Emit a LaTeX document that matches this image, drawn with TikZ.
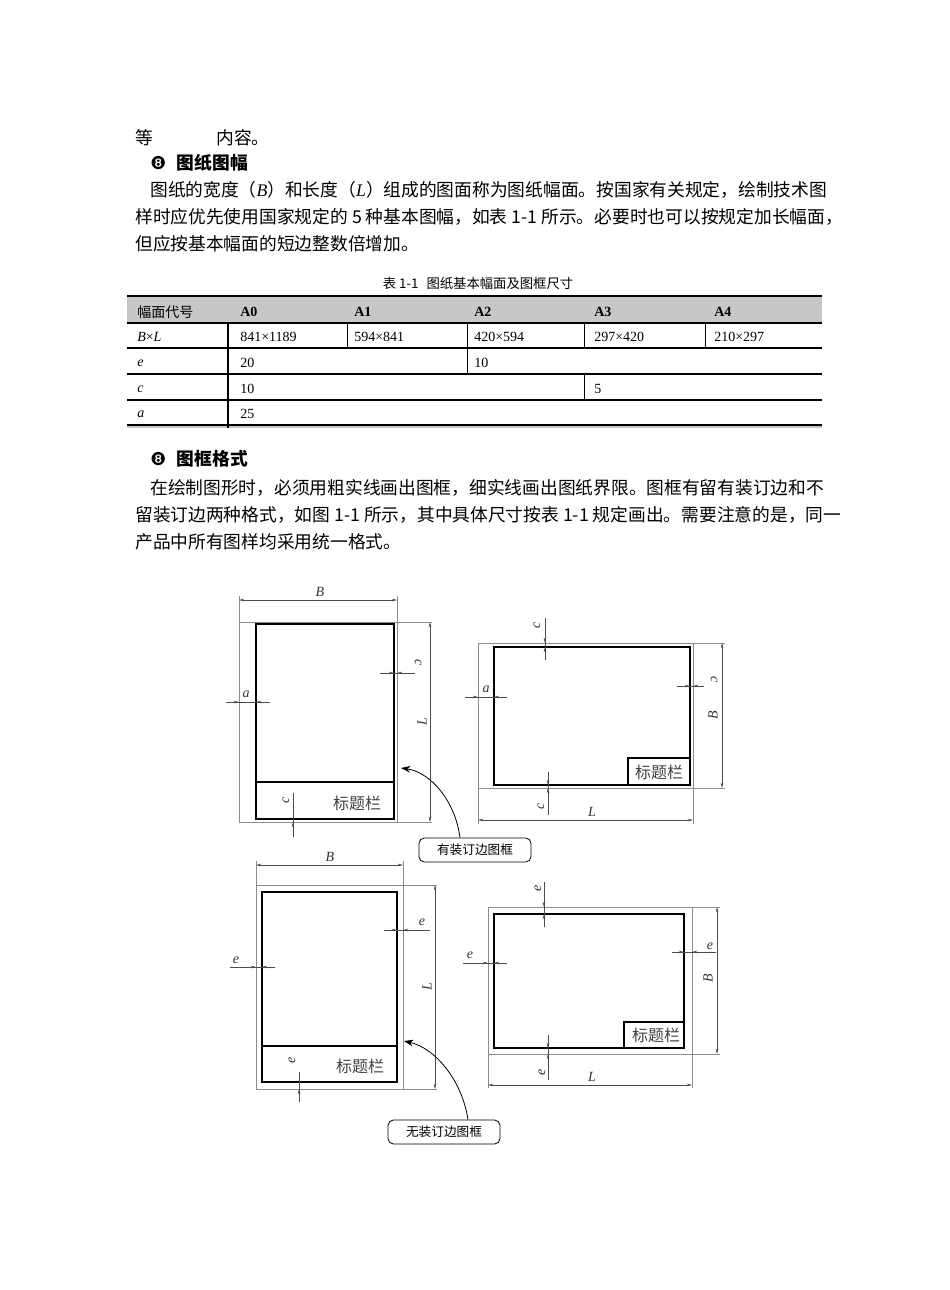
\documentclass[tikz,border=0pt]{standalone}
\usepackage{fontspec}
\setmainfont{Liberation Serif}
\newfontfamily\cjk{Noto Sans CJK SC}
\newfontfamily\djv{DejaVu Sans}
\newcommand\li[1]{{\rmfamily\itshape #1}}
\usetikzlibrary{arrows.meta}
\begin{document}
\begin{tikzpicture}[x=0.75pt,y=-0.75pt,
  body/.style={anchor=west,inner sep=0,font=\fontsize{13.3}{15}\selectfont},
  tb/.style={anchor=west,inner sep=0,font=\fontsize{10.5}{12}\selectfont},
  paper/.style={draw=black!45,line width=0.5pt},
  frm/.style={draw=black,line width=1.3pt},
  dim/.style={draw=black!70,line width=0.4pt},
  da/.style={dim,{Stealth[length=4pt,width=2pt]}-{Stealth[length=4pt,width=2pt]}},
  lb/.style={inner sep=0,font=\fontsize{10.5}{11}\selectfont\itshape,text=black!80},
  tt/.style={inner sep=0,font=\cjk\fontsize{12}{12}\selectfont,text=black!75},
  call/.style={draw,rounded corners=4pt,line width=0.6pt,minimum width=112pt*0.75,minimum height=24pt*0.75,font=\cjk\fontsize{9.5}{10}\selectfont},
  tip/.style={-{Stealth[length=7pt,width=5pt]},line width=0.6pt}]
\useasboundingbox (0,0) rectangle (950,1290);
% --- text ---
\node[body] (t1) at (135,138) {\cjk 等};
\node[body] (t2) at (216,138) {\cjk 内容。};
\node[body] (h1) at (150,163) {{\djv ❽}\hspace{8pt}\cjk\bfseries 图纸图幅};
\node[body] (p1) at (150,190) {\cjk 图纸的宽度（\li{B}）和长度（\li{L}）组成的图面称为图纸幅面。按国家有关规定，绘制技术图};
\node[body] (p2) at (135,217) {\cjk 样时应优先使用国家规定的 5 种基本图幅，如表 1-1 所示。必要时也可以按规定加长幅面，};
\node[body] (p3) at (135,244) {\cjk 但应按基本幅面的短边整数倍增加。};
\node[inner sep=0,font=\cjk\fontsize{10}{10}\selectfont] (cap) at (478,283) {表 1-1\hspace{6pt}图纸基本幅面及图框尺寸};
% --- table ---
\fill[black!22] (127,296) rectangle (822,323);
\fill[black!22] (127,425) rectangle (822,428);
\draw[line width=1.6pt] (127,296) -- (822,296);
\draw[line width=1pt] (127,323) -- (822,323);
\foreach \y in {348,374,400} \draw[line width=0.8pt] (127,\y) -- (822,\y);
\draw[line width=1.4pt] (127,425) -- (822,425);
\draw[line width=0.8pt] (228,323) -- (228,428);
\draw[line width=0.6pt] (347,323) -- (347,348) (705,323) -- (705,348);
\draw[line width=0.6pt] (467,323) -- (467,374);
\draw[line width=0.6pt] (584,323) -- (584,348) (584,374) -- (584,400);
\node[tb] (c00) at (137,312) {\cjk 幅面代号};
\node[tb] (c01) at (240,312) {\bfseries A0};
\node[tb] (c02) at (354,312) {\bfseries A1};
\node[tb] (c03) at (474,312) {\bfseries A2};
\node[tb] (c04) at (594,312) {\bfseries A3};
\node[tb] (c05) at (714,312) {\bfseries A4};
\node[tb] (c10) at (137,337) {\textit{B}×\textit{L}};
\node[tb] (c11) at (240,337) {841×1189};
\node[tb] (c12) at (354,337) {594×841};
\node[tb] (c13) at (474,337) {420×594};
\node[tb] (c14) at (594,337) {297×420};
\node[tb] (c15) at (714,337) {210×297};
\node[tb] (c20) at (137,363) {\textit{e}};
\node[tb] (c21) at (240,363) {20};
\node[tb] (c23) at (474,363) {10};
\node[tb] (c30) at (137,389) {\textit{c}};
\node[tb] (c31) at (240,389) {10};
\node[tb] (c34) at (594,389) {5};
\node[tb] (c40) at (137,414) {\textit{a}};
\node[tb] (c41) at (240,414) {25};
% --- second heading ---
\node[body] (h2) at (150,459) {{\djv ❽}\hspace{8pt}\cjk\bfseries 图框格式};
\node[body] (q1) at (150,488) {\cjk 在绘制图形时，必须用粗实线画出图框，细实线画出图纸界限。图框有留有装订边和不};
\node[body] (q2) at (135,515) {\cjk 留装订边两种格式，如图 1-1 所示，其中具体尺寸按表 1-1 规定画出。需要注意的是，同一};
\node[body] (q3) at (135,542) {\cjk 产品中所有图样均采用统一格式。};
% ===== Figure 1 =====
\draw[paper] (239,622) rectangle (397,822);
\draw[paper] (397,622) -- (432,622) (397,822) -- (432,822);
\draw[paper] (239,596) -- (239,622) (397,596) -- (397,622);
\draw[frm] (256,624) rectangle (394,819);
\draw[frm] (256,782) -- (394,782);
\node[tt] (tb1) at (357,803) {标题栏};
\draw[da] (239,600) -- (397,600); \node[lb] (B1) at (320,592) {B};
\draw[da] (430,622) -- (430,822); \node[lb,rotate=90] (L1) at (422,722) {L};
\draw[dim] (226,702) -- (270,702);
\draw[dim,-{Stealth[length=4pt,width=2pt]}] (228,702) -- (239,702);
\draw[dim,-{Stealth[length=4pt,width=2pt]}] (268,702) -- (256,702);
\node[lb] (a1) at (246,694) {a};
\draw[dim] (380,673) -- (415,673);
\draw[dim,-{Stealth[length=4pt,width=2pt]}] (382,673) -- (394,673);
\draw[dim,-{Stealth[length=4pt,width=2pt]}] (409,673) -- (397,673);
\node[lb,rotate=-90] (cr1) at (418,663) {c};
\draw[dim] (293,793) -- (293,837);
\draw[dim,-{Stealth[length=4pt,width=2pt]}] (293,835) -- (293,822);
\node[lb,rotate=90] (cb1) at (286,800) {c};
% ===== Figure 2 =====
\draw[paper] (478,643) rectangle (693,788);
\draw[paper] (693,643) -- (725,643) (693,788) -- (725,788);
\draw[paper] (478,788) -- (478,824) (693,788) -- (693,824);
\draw[frm] (494,647) rectangle (690,785);
\draw[frm] (628,785) -- (628,758) -- (690,758);
\node[tt] (tb2) at (659,772) {标题栏};
\draw[da] (722,643) -- (722,788); \node[lb,rotate=90] (B2) at (713,715) {B};
\draw[da] (478,820) -- (693,820); \node[lb] (L2) at (592,812) {L};
\draw[dim] (545,618) -- (545,660);
\draw[dim,-{Stealth[length=4pt,width=2pt]}] (545,632) -- (545,643);
\draw[dim,-{Stealth[length=4pt,width=2pt]}] (545,658) -- (545,647);
\node[lb,rotate=90] (ct2) at (537,625) {c};
\draw[dim] (548,772) -- (548,815);
\draw[dim,-{Stealth[length=4pt,width=2pt]}] (548,774) -- (548,785);
\draw[dim,-{Stealth[length=4pt,width=2pt]}] (548,800) -- (548,788);
\node[lb,rotate=90] (cb2) at (541,806) {c};
\draw[dim] (465,697) -- (507,697);
\draw[dim,-{Stealth[length=4pt,width=2pt]}] (467,697) -- (478,697);
\draw[dim,-{Stealth[length=4pt,width=2pt]}] (505,697) -- (494,697);
\node[lb] (a2) at (486,689) {a};
\draw[dim] (677,686) -- (700,686);
\draw[dim,-{Stealth[length=4pt,width=2pt]}] (679,686) -- (690,686);
\draw[dim,-{Stealth[length=4pt,width=2pt]}] (704,686) -- (693,686);
\node[lb,rotate=-90] (cr2) at (714,680) {c};
% ===== Figure 3 =====
\draw[paper] (256,885) rectangle (403,1089);
\draw[paper] (403,885) -- (437,885) (403,1089) -- (437,1089);
\draw[paper] (256,861) -- (256,885) (403,861) -- (403,885);
\draw[frm] (262,892) rectangle (397,1082);
\draw[frm] (262,1046) -- (397,1046);
\node[tt] (tb3) at (360,1066) {标题栏};
\draw[da] (256,865) -- (403,865); \node[lb] (B3) at (330,857) {B};
\draw[da] (435,885) -- (435,1089); \node[lb,rotate=90] (L3) at (427,987) {L};
\draw[dim] (230,967) -- (275,967);
\draw[dim,-{Stealth[length=4pt,width=2pt]}] (245,967) -- (256,967);
\draw[dim,-{Stealth[length=4pt,width=2pt]}] (273,967) -- (262,967);
\node[lb] (e31) at (236,960) {e};
\draw[dim] (384,930) -- (430,930);
\draw[dim,-{Stealth[length=4pt,width=2pt]}] (386,930) -- (397,930);
\draw[dim,-{Stealth[length=4pt,width=2pt]}] (414,930) -- (403,930);
\node[lb] (e32) at (422,922) {e};
\draw[dim] (299,1072) -- (299,1102);
\draw[dim,-{Stealth[length=4pt,width=2pt]}] (299,1100) -- (299,1089);
\node[lb,rotate=90] (e33) at (292,1060) {e};
% ===== Figure 4 =====
\draw[paper] (488,907) rectangle (692,1054);
\draw[paper] (692,907) -- (720,907) (692,1054) -- (720,1054);
\draw[paper] (488,1054) -- (488,1088) (692,1054) -- (692,1088);
\draw[frm] (494,914) rectangle (684,1048);
\draw[frm] (624,1048) -- (624,1022) -- (684,1022);
\node[tt] (tb4) at (656,1035) {标题栏};
\draw[da] (717,907) -- (717,1054); \node[lb,rotate=90] (B4) at (708,978) {B};
\draw[da] (488,1085) -- (692,1085); \node[lb] (L4) at (592,1077) {L};
\draw[dim] (544,882) -- (544,927);
\draw[dim,-{Stealth[length=4pt,width=2pt]}] (544,896) -- (544,907);
\draw[dim,-{Stealth[length=4pt,width=2pt]}] (544,925) -- (544,914);
\node[lb,rotate=90] (e41) at (538,888) {e};
\draw[dim] (548,1035) -- (548,1080);
\draw[dim,-{Stealth[length=4pt,width=2pt]}] (548,1037) -- (548,1048);
\draw[dim,-{Stealth[length=4pt,width=2pt]}] (548,1066) -- (548,1054);
\node[lb,rotate=90] (e42) at (542,1072) {e};
\draw[dim] (463,963) -- (507,963);
\draw[dim,-{Stealth[length=4pt,width=2pt]}] (477,963) -- (488,963);
\draw[dim,-{Stealth[length=4pt,width=2pt]}] (505,963) -- (494,963);
\node[lb] (e43) at (470,955) {e};
\draw[dim] (672,952) -- (716,952);
\draw[dim,-{Stealth[length=4pt,width=2pt]}] (673,952) -- (684,952);
\draw[dim,-{Stealth[length=4pt,width=2pt]}] (703,952) -- (692,952);
\node[lb] (e44) at (710,946) {e};
% ===== callouts =====
\node[call] (k1) at (475,850) {有装订边图框};
\coordinate (g1) at (401,768);
\draw[tip] (k1.north) ++(-15,0) .. controls (455,800) and (430,772) .. (g1);
\node[call] (k2) at (444,1132) {无装订边图框};
\coordinate (g2) at (404,1041);
\draw[tip] (k2.north) ++(24,0) .. controls (462,1080) and (435,1048) .. (g2);
\end{tikzpicture}
\end{document}
